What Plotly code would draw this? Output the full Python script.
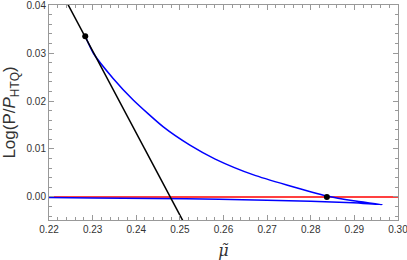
import plotly.graph_objects as go

# Upper blue branch (from tangent point to cusp)
upper_mu = [0.2283, 0.2302, 0.2347, 0.2393, 0.2462, 0.2523, 0.2581, 0.2669, 0.2745, 0.2837, 0.2898, 0.2964]
upper_logp = [0.0335, 0.0299, 0.0247, 0.0202, 0.0146, 0.0108, 0.0079, 0.0046, 0.0025, 0.0002, -0.0008, -0.0016]
# Lower blue branch (from cusp back to the left)
lower_mu = [0.2964, 0.2898, 0.280, 0.270, 0.259, 0.244, 0.230, 0.218]
lower_logp = [-0.0016, -0.0012, -0.0009, -0.0007, -0.0005, -0.0003, -0.0002, -0.0001]
# Black straight line
black_mu = [0.2230, 0.2520]
black_logp = [0.0424, -0.0072]
# Red reference line
red_mu = [0.21, 0.31]
red_logp = [0.0, 0.0]
# Marked points
dot_mu = [0.2283, 0.2837]
dot_logp = [0.0335, 0.0]

x_ticks = [0.22, 0.23, 0.24, 0.25, 0.26, 0.27, 0.28, 0.29, 0.30]
y_ticks = [0.00, 0.01, 0.02, 0.03, 0.04]

fig = go.Figure()
fig.add_trace(go.Scatter(x=red_mu, y=red_logp, mode="lines", line=dict(color="#ff0000", width=1.5)))
fig.add_trace(go.Scatter(x=upper_mu + lower_mu[1:], y=upper_logp + lower_logp[1:], mode="lines",
                         line=dict(color="#0000ff", width=1.5, shape="spline", smoothing=0.6)))
fig.add_trace(go.Scatter(x=black_mu, y=black_logp, mode="lines", line=dict(color="black", width=1.5)))
fig.add_trace(go.Scatter(x=dot_mu, y=dot_logp, mode="markers", marker=dict(color="black", size=6)))

axis_common = dict(
    showgrid=False, zeroline=False, showline=True, linecolor="#999999", linewidth=1,
    mirror="allticks", ticks="inside", ticklen=5, tickcolor="#999999", automargin=False,
    ticklabeloverflow="allow",
    tickfont=dict(family="Liberation Sans, Arial", size=10, color="#333333"),
)
fig.update_xaxes(range=[0.21999, 0.30001], tickvals=x_ticks, ticktext=[f"{v:.2f}" for v in x_ticks],
                 minor=dict(ticks="inside", ticklen=3, dtick=0.002, tick0=0.22, tickcolor="#999999", showgrid=False),
                 title=dict(text="<i>μ̃</i>", font=dict(family="DejaVu Serif", size=16, color="#333333"), standoff=10),
                 **axis_common)
fig.update_yaxes(range=[-0.0048, 0.04001], tickvals=y_ticks, ticktext=[f"{v:.2f}" for v in y_ticks],
                 minor=dict(ticks="inside", ticklen=3, dtick=0.002, tick0=0.0, tickcolor="#999999", showgrid=False),
                 title=dict(text="Log(P/<i>P</i><sub>HTQ</sub>)", font=dict(family="Liberation Sans, Arial", size=17, color="#333333"), standoff=9),
                 **axis_common)
fig.update_layout(width=407, height=260, margin=dict(l=49, r=9, t=5, b=40, autoexpand=False),
                  plot_bgcolor="white", paper_bgcolor="white", showlegend=False)
fig.write_html("out.html", config={"displayModeBar": False},
               post_script="document.body.style.margin='0';")
